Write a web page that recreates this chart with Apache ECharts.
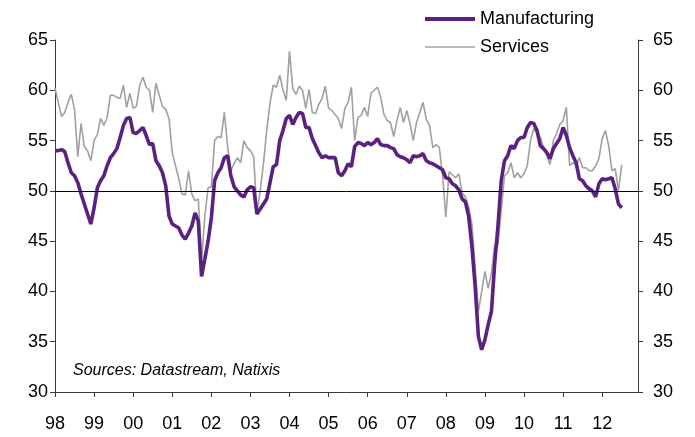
<!DOCTYPE html>
<html>
<head>
<meta charset="utf-8">
<script src="https://cdn.jsdelivr.net/npm/echarts@6/dist/echarts.min.js"></script>
<style>
    html, body { margin: 0; padding: 0; background: #fff; }
    #chart { width: 695px; height: 437px; }
</style>
</head>
<body>
<div id="chart"></div>
<script>
// monthly PMI, Jan 1998 .. Jul 2012
var manufacturing = [
    54.0, 54.0, 54.1, 53.9, 52.8, 51.8, 51.5, 50.8, 49.7, 48.7, 47.7, 46.7,
    48.3, 50.3, 51.0, 51.5, 52.5, 53.3, 53.7, 54.2, 55.3, 56.5, 57.2, 57.3,
    55.8, 55.7, 56.0, 56.3, 55.5, 54.6, 54.7, 53.0, 52.5, 51.8, 50.5, 47.5,
    46.7, 46.5, 46.3, 45.6, 45.2, 45.8, 46.5, 47.8, 47.0, 41.5, 43.2, 45.0,
    47.3, 51.0, 51.8, 52.3, 53.3, 53.5, 51.5, 50.4, 50.0, 49.6, 49.4, 50.1,
    50.4, 50.3, 47.7, 48.2, 48.7, 49.2, 50.8, 52.4, 52.6, 55.0, 56.0, 57.2,
    57.5, 56.6, 57.3, 57.8, 57.7, 56.3, 56.3, 55.2, 54.5, 53.8, 53.3, 53.5,
    53.3, 53.3, 53.3, 51.8, 51.5, 52.0, 52.7, 52.4, 54.4, 54.8, 54.7, 54.5,
    54.8, 54.6, 54.8, 55.2, 54.6, 54.5, 54.5, 54.3, 54.2, 53.6, 53.4, 53.3,
    53.1, 52.8, 53.5, 53.4, 53.5, 53.7, 53.0, 52.8, 52.7, 52.5, 52.3, 52.1,
    51.3, 51.2, 50.7, 50.5, 50.1, 49.2, 48.9, 47.5, 44.5, 40.5, 35.5, 34.2,
    35.2, 36.7, 38.0, 42.8, 46.5, 51.0, 53.0, 53.5, 54.5, 54.2, 55.0, 55.3,
    55.3, 56.3, 56.8, 56.7, 56.0, 54.5, 54.2, 53.8, 53.2, 54.2, 54.7, 55.2,
    56.3, 55.5, 54.3, 53.5, 52.8, 51.2, 51.0, 50.5, 50.2, 50.0, 49.4, 50.7,
    51.2, 51.1, 51.2, 51.3, 50.2, 48.7, 48.3
];

var services = [
    60.2, 58.8, 57.4, 57.8, 58.8, 59.6, 58.1, 53.4, 56.7, 54.4, 54.0, 53.0,
    55.0, 55.6, 57.2, 56.5, 57.3, 59.5, 59.5, 59.3, 59.2, 60.5, 58.3, 59.7,
    58.2, 58.4, 60.5, 61.3, 60.3, 60.0, 57.8, 60.7, 59.5, 58.4, 58.1, 57.2,
    53.8, 52.5, 51.2, 49.7, 49.6, 52.0, 49.7, 49.0, 49.2, 43.0, 47.5, 50.3,
    50.4, 55.0, 55.4, 55.3, 57.8, 54.4, 52.0, 52.7, 53.3, 52.8, 55.0, 54.3,
    54.0, 53.4, 47.8, 50.0, 52.7, 56.0, 58.7, 60.5, 60.3, 61.5, 60.0, 59.0,
    63.9, 60.2, 59.6, 60.4, 60.0, 58.2, 60.1, 57.8, 57.7, 58.6, 59.2, 60.4,
    58.2, 58.0, 57.6, 57.2, 56.2, 58.2, 58.8, 60.3, 55.0, 57.3, 57.5, 58.3,
    57.4, 59.7, 60.0, 60.3, 59.3, 57.6, 57.0, 56.8, 55.4, 57.0, 58.3, 56.8,
    58.0, 56.7, 55.0, 56.8, 57.8, 58.8, 57.1, 56.5, 54.3, 54.6, 54.3, 51.5,
    47.4, 51.9, 51.6, 51.3, 51.7, 49.8, 49.4, 48.4, 46.7, 42.5, 38.0, 40.0,
    42.0, 40.3, 41.8, 44.6, 44.6, 48.0, 51.5, 51.8, 52.8, 51.3, 51.8, 51.3,
    51.7, 52.5, 55.0, 56.2, 55.7, 55.3, 54.3, 53.5, 52.6, 55.0, 55.7, 56.6,
    57.0, 58.3, 52.5, 52.8, 52.5, 53.3, 52.3, 52.3, 52.0, 52.0, 52.5, 53.2,
    55.2, 56.0, 54.5, 52.0, 52.2, 50.0, 52.6
];

var firstYear = 1998;
var lastYear = 2012;
var yTicks = [30, 35, 40, 45, 50, 55, 60, 65];

var months = [];
for (var y = firstYear; y <= lastYear; y++) {
    for (var m = 1; m <= 12; m++) {
        months.push(y + '-' + (m < 10 ? '0' + m : m));
    }
}

var font = 'Liberation Sans, Arial, sans-serif';
var purple = '#5a2181';
var grey = '#a0a0a0';

function isYearStart(index) {
    return index % 12 === 0;
}

function yAxisFor(position, margin) {
    return {
        type: 'value',
        position: position,
        min: yTicks[0],
        max: yTicks[yTicks.length - 1],
        interval: 5,
        axisLine: { show: true, lineStyle: { color: '#3a3a3a', width: 1 } },
        axisTick: { show: true, length: 5, lineStyle: { color: '#3a3a3a' } },
        axisLabel: { margin: margin, fontSize: 18, color: '#000', fontFamily: font },
        splitLine: { show: false }
    };
}

var myChart = echarts.init(document.getElementById('chart'));

var option = {
    animation: false,
    backgroundColor: '#fff',
    grid: { left: 55, right: 57, top: 40, bottom: 45 },
    legend: {
        orient: 'vertical',
        left: 420,
        top: 5,
        itemWidth: 50,
        itemHeight: 14,
        itemGap: 10,
        symbolKeepAspect: true,
        textStyle: { fontSize: 18, color: '#000', fontFamily: font },
        data: [
            { name: 'Manufacturing', icon: 'path://M0,0H50V4H0Z' },
            { name: 'Services', icon: 'path://M0,0H50V1.6H0Z' }
        ]
    },
    graphic: [{
        type: 'text',
        left: 73,
        top: 363,
        style: {
            text: 'Sources: Datastream, Natixis',
            font: 'italic 16px ' + font,
            fill: '#000'
        }
    }],
    xAxis: {
        type: 'category',
        data: months,
        boundaryGap: false,
        axisLine: { lineStyle: { color: '#3a3a3a', width: 1 } },
        axisTick: { show: true, length: 5, interval: isYearStart, lineStyle: { color: '#3a3a3a' } },
        axisLabel: {
            interval: isYearStart,
            margin: 23,
            fontSize: 18,
            color: '#000',
            fontFamily: font,
            formatter: function (v) {
                return v.substr(2, 2);
            }
        },
        splitLine: { show: false }
    },
    yAxis: [yAxisFor('left', 7), yAxisFor('right', 15)],
    series: [{
        name: 'Services',
        type: 'line',
        data: services,
        showSymbol: false,
        symbol: 'none',
        color: grey,
        lineStyle: { width: 1.6, color: grey },
        z: 2
    }, {
        name: 'Manufacturing',
        type: 'line',
        data: manufacturing,
        showSymbol: false,
        symbol: 'none',
        color: purple,
        lineStyle: { width: 3.6, color: purple },
        z: 3,
        markLine: {
            silent: true,
            symbol: 'none',
            label: { show: false },
            lineStyle: { color: '#000', width: 1, type: 'solid' },
            data: [{ yAxis: 50 }]
        }
    }]
};

myChart.setOption(option);
</script>
</body>
</html>
